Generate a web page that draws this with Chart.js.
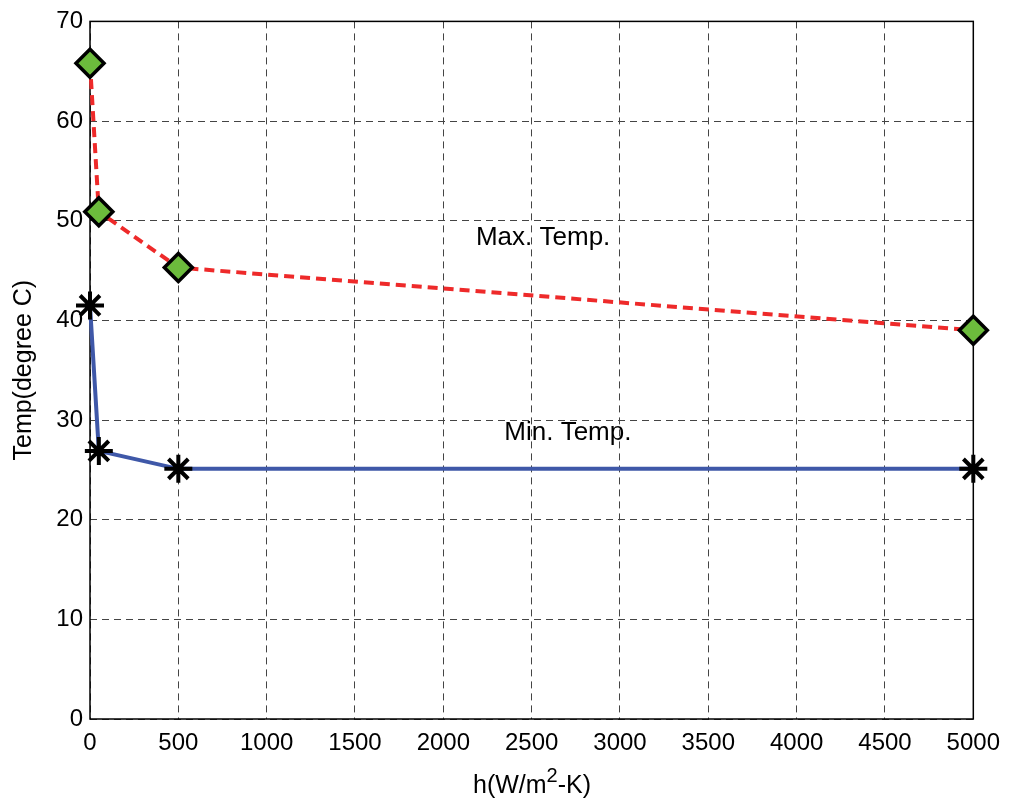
<!DOCTYPE html>
<html lang="en">
<head>
    <meta charset="UTF-8">
    <script src="https://cdn.jsdelivr.net/npm/chart.js"></script>
    <title>Temp vs h</title>
    <style>
        body { margin: 0; background: #fff; }
        #wrap { width: 1010px; height: 798px; }
    </style>
</head>
<body>
<div id="wrap"><canvas id="tempChart" width="1010" height="798"></canvas></div>
<script>
    // values
    const hValues = [0, 50, 500, 5000];
    const maxTemp = [65.8, 50.9, 45.3, 39.0];
    const minTemp = [41.5, 26.9, 25.1, 25.1];
    const xTicks = [0, 500, 1000, 1500, 2000, 2500, 3000, 3500, 4000, 4500, 5000];
    const yTicks = [0, 10, 20, 30, 40, 50, 60, 70];
    const labelText = ["Max. Temp.", "Min. Temp."];
    const labelAt = [[2565, 48.3], [2705, 28.7]];

    const font = "'Liberation Sans', Arial, sans-serif";

    // text labels inside the plot + x title with superscript
    const textLabels = {
        id: 'textLabels',
        afterDatasetsDraw(chart) {
            const ctx = chart.ctx;
            ctx.save();
            ctx.font = "26px " + font;
            ctx.fillStyle = "#000";
            ctx.textAlign = "center";
            ctx.textBaseline = "middle";
            labelText.forEach((t, i) => {
                ctx.fillText(t, chart.scales.x.getPixelForValue(labelAt[i][0]), chart.scales.y.getPixelForValue(labelAt[i][1]));
            });

            // x axis title: h(W/m^2-K)
            const a = "h(W/m", sup = "2", b = "-K)";
            ctx.textAlign = "left";
            ctx.textBaseline = "alphabetic";
            ctx.font = "25px " + font;
            const wa = ctx.measureText(a).width, wb = ctx.measureText(b).width;
            ctx.font = "20px " + font;
            const ws = ctx.measureText(sup).width;
            const cx = 532;
            let x = cx - (wa + ws + wb) / 2;
            const base = 793;
            ctx.font = "25px " + font;
            ctx.fillText(a, x, base);
            x += wa;
            ctx.font = "20px " + font;
            ctx.fillText(sup, x, base - 11);
            x += ws;
            ctx.font = "25px " + font;
            ctx.fillText(b, x, base);
            ctx.restore();
        }
    };

    // box around plot area
    const frame = {
        id: 'frame',
        beforeDatasetsDraw(chart) {
            const a = chart.chartArea, ctx = chart.ctx;
            ctx.save();
            ctx.strokeStyle = "#000";
            ctx.lineWidth = 1.5;
            ctx.strokeRect(a.left, a.top, a.right - a.left, a.bottom - a.top);
            ctx.restore();
        }
    };

    new Chart(document.getElementById('tempChart'), {
        type: 'line',
        data: {
            datasets: [
                {
                    data: hValues.map((h, i) => ({x: h, y: maxTemp[i]})),
                    borderColor: '#ee2a2a',
                    borderWidth: 4,
                    borderDash: [10, 6],
                    pointStyle: 'rectRot',
                    pointRadius: 14,
                    pointBackgroundColor: '#6cbb3c',
                    pointBorderColor: '#000',
                    pointBorderWidth: 3.5,
                    tension: 0
                },
                {
                    data: hValues.map((h, i) => ({x: h, y: minTemp[i]})),
                    borderColor: '#3f58a8',
                    borderWidth: 4,
                    pointStyle: 'star',
                    pointRadius: 14,
                    pointBorderColor: '#000',
                    pointBorderWidth: 4,
                    tension: 0
                }
            ]
        },
        options: {
            responsive: false,
            animation: false,
            clip: false,
            layout: { padding: { top: 18, right: 28, left: 0, bottom: 0 } },
            plugins: { legend: { display: false }, tooltip: { enabled: false } },
            scales: {
                x: {
                    type: 'linear',
                    min: 0, max: 5000,
                    afterBuildTicks: s => { s.ticks = xTicks.map(v => ({value: v})); },
                    afterFit: s => { s.height = 79; },
                    grid: { color: '#444', lineWidth: 1, tickLength: 0 },
                    border: { display: false, dash: [7, 5] },
                    ticks: { color: '#000', font: { family: font, size: 24 }, padding: 10, maxRotation: 0,
                             callback: v => String(v) }
                },
                y: {
                    min: 0, max: 70,
                    afterBuildTicks: s => { s.ticks = yTicks.map(v => ({value: v})); },
                    afterFit: s => { s.width = 90; },
                    grid: { color: '#444', lineWidth: 1, tickLength: 0 },
                    border: { display: false, dash: [7, 5] },
                    ticks: { color: '#000', font: { family: font, size: 24 }, padding: 7,
                             callback: v => String(v) },
                    title: { display: true, text: 'Temp(degree C)', color: '#000', font: { family: font, size: 25 }, padding: { top: 9, bottom: 0 } }
                }
            }
        },
        plugins: [frame, textLabels]
    });
</script>
</body>
</html>
